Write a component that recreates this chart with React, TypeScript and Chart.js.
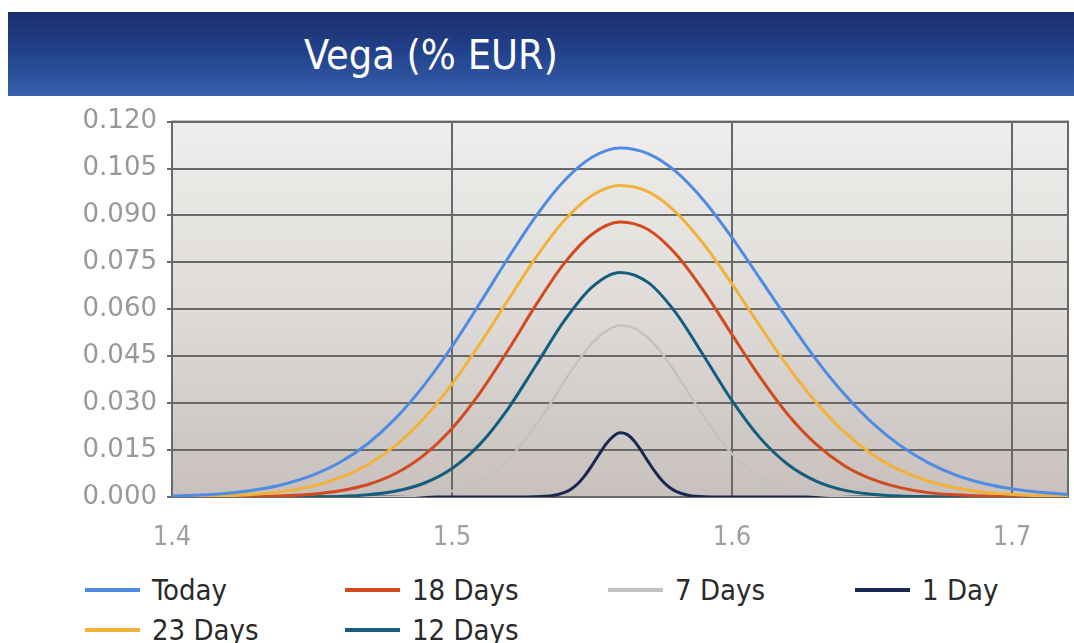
import React, { useEffect, useRef } from "react";
import { Chart, registerables } from "chart.js";

Chart.register(...registerables);

// ---------- data ----------
const chartTitle = "Vega (% EUR)";

const xWide = [
  1.40, 1.41, 1.42, 1.43, 1.44, 1.45, 1.46, 1.47, 1.48, 1.49, 1.50, 1.51, 1.52,
  1.53, 1.54, 1.55, 1.56, 1.57, 1.58, 1.59, 1.60, 1.61, 1.62, 1.63, 1.64, 1.65,
  1.66, 1.67, 1.68, 1.69, 1.70, 1.71, 1.72,
];

const todayValues = [
  0.0003, 0.0006, 0.0012, 0.0023, 0.0041, 0.0069, 0.0111, 0.0171, 0.0253, 0.0357,
  0.0481, 0.0620, 0.0763, 0.0898, 0.1010, 0.1086, 0.1116, 0.1098, 0.1040, 0.0947,
  0.0829, 0.0698, 0.0566, 0.0440, 0.0330, 0.0238, 0.0165, 0.0110, 0.0070, 0.0043,
  0.0026, 0.0015, 0.0008,
];

const days23Values = [
  0.0001, 0.0002, 0.0004, 0.0009, 0.0018, 0.0034, 0.0062, 0.0104, 0.0166, 0.0252,
  0.0361, 0.0490, 0.0629, 0.0766, 0.0883, 0.0964, 0.0996, 0.0976, 0.0910, 0.0807,
  0.0681, 0.0546, 0.0417, 0.0303, 0.0209, 0.0137, 0.0086, 0.0051, 0.0029, 0.0015,
  0.0008, 0.0004, 0.0002,
];

const days18Values = [
  0, 0, 0.0001, 0.0001, 0.0004, 0.0009, 0.0020, 0.0040, 0.0076, 0.0134,
  0.0219, 0.0333, 0.0469, 0.0614, 0.0746, 0.0840, 0.0879, 0.0855, 0.0776, 0.0657,
  0.0519, 0.0383, 0.0263, 0.0169, 0.0101, 0.0057, 0.0030, 0.0014, 0.0007, 0.0003,
  0.0001, 0, 0,
];

const days12Values = [
  0, 0, 0, 0, 0, 0.0001, 0.0002, 0.0007, 0.0019, 0.0044,
  0.0091, 0.0169, 0.0282, 0.0421, 0.0562, 0.0671, 0.0718, 0.0686, 0.0588, 0.0450,
  0.0308, 0.0189, 0.0104, 0.0051, 0.0022, 0.0009, 0.0003, 0.0001, 0, 0,
  0, 0, 0,
];

const x7Days = [
  1.40, 1.47, 1.48, 1.49, 1.495, 1.50, 1.505, 1.51, 1.515, 1.52, 1.525, 1.53,
  1.535, 1.54, 1.545, 1.55, 1.555, 1.56, 1.565, 1.57, 1.575, 1.58, 1.585, 1.59,
  1.595, 1.60, 1.605, 1.61, 1.615, 1.62, 1.625, 1.63, 1.64, 1.65, 1.72,
];
const days7Values = [
  0, 0, 0.0001, 0.0006, 0.0011, 0.0019, 0.0032, 0.0052, 0.0081, 0.0120, 0.0170, 0.0230,
  0.0297, 0.0368, 0.0435, 0.0491, 0.0530, 0.0548, 0.0540, 0.0509, 0.0459, 0.0395, 0.0325, 0.0256,
  0.0192, 0.0138, 0.0095, 0.0062, 0.0039, 0.0023, 0.0013, 0.0007, 0.0002, 0, 0,
];

const x1Day = [
  1.40, 1.525, 1.53, 1.535, 1.54, 1.5425, 1.545, 1.5475, 1.55, 1.5525, 1.555, 1.5575,
  1.56, 1.5625, 1.565, 1.5675, 1.57, 1.5725, 1.575, 1.5775, 1.58, 1.585, 1.59, 1.595, 1.72,
];
const day1Values = [
  0, 0, 0.0001, 0.0003, 0.0014, 0.0025, 0.0043, 0.0069, 0.0101, 0.0136, 0.0169, 0.0193,
  0.0205, 0.0200, 0.0180, 0.0149, 0.0114, 0.0081, 0.0053, 0.0032, 0.0018, 0.0004, 0.0001, 0, 0,
];

const seriesNames = ["Today", "23 Days", "18 Days", "12 Days", "7 Days", "1 Day"];
const seriesX = [xWide, xWide, xWide, xWide, x7Days, x1Day];
const seriesY = [todayValues, days23Values, days18Values, days12Values, days7Values, day1Values];

const xMin = 1.4;
const xMax = 1.72;
const xStep = 0.1;
const yMin = 0;
const yMax = 0.12;
const yStep = 0.015;

// ---------- styles ----------
const seriesColors = ["#4f8be3", "#f2b23a", "#d24a1e", "#145d7d", "#c2c2c2", "#1a2753"];
const seriesWidths = [3, 3, 3, 3, 2.5, 3];
// legend layout: [left, centerY] per series
const legendSlots = [
  [85, 590],
  [85, 630],
  [345, 590],
  [345, 630],
  [608, 590],
  [855, 590],
];

const gridColor = "#696969";

const plotBackground = {
  id: "plotBackground",
  beforeDraw(chart: any) {
    const { ctx, chartArea: a } = chart;
    if (!a) return;
    const g = ctx.createLinearGradient(0, a.top, 0, a.bottom);
    g.addColorStop(0, "#efeeec");
    g.addColorStop(0.5, "#dedbd8");
    g.addColorStop(1, "#c8c0bc");
    ctx.save();
    ctx.fillStyle = g;
    ctx.fillRect(a.left, a.top, a.right - a.left, a.bottom - a.top);
    ctx.restore();
  },
  beforeDatasetsDraw(chart: any) {
    const { ctx, chartArea: a } = chart;
    ctx.save();
    ctx.strokeStyle = gridColor;
    ctx.lineWidth = 2;
    ctx.strokeRect(a.left, a.top, a.right - a.left, a.bottom - a.top);
    ctx.restore();
  },
};

function ChartCanvas() {
  const ref = useRef<HTMLCanvasElement | null>(null);
  useEffect(() => {
    if (!ref.current) return;
    const datasets = seriesNames.map((name, i) => ({
      label: name,
      data: seriesX[i].map((x, j) => ({ x, y: seriesY[i][j] })),
      borderColor: seriesColors[i],
      backgroundColor: seriesColors[i],
      borderWidth: seriesWidths[i],
      pointRadius: 0,
      pointHoverRadius: 0,
      fill: false,
      cubicInterpolationMode: "monotone" as const,
    }));
    const chart = new Chart(ref.current, {
      type: "line",
      data: { datasets },
      plugins: [plotBackground],
      options: {
        animation: false,
        responsive: false,
        maintainAspectRatio: false,
        layout: { padding: { top: 19, right: 6, bottom: 0, left: 0 } },
        plugins: {
          legend: { display: false },
          title: { display: false },
          tooltip: { enabled: false },
        },
        scales: {
          x: {
            type: "linear",
            min: xMin,
            max: xMax,
            afterFit: (s: any) => {
              s.height = 60;
            },
            ticks: {
              stepSize: xStep,
              includeBounds: false,
              padding: 25,
              color: "#a0a0a0",
              font: { family: "'DejaVu Sans Condensed', 'DejaVu Sans', sans-serif", size: 27 },
              callback: (v: any) => Number(v).toFixed(1),
              maxRotation: 0,
            },
            grid: { color: gridColor, lineWidth: 2, drawTicks: false, tickLength: 0 },
            border: { display: true, color: gridColor, width: 2 },
          },
          y: {
            type: "linear",
            min: yMin,
            max: yMax,
            afterFit: (s: any) => {
              s.width = 172;
            },
            ticks: {
              stepSize: yStep,
              padding: 10,
              color: "#999999",
              font: { family: "'DejaVu Sans', sans-serif", size: 26 },
              callback: (v: any) => Number(v).toFixed(3),
            },
            grid: { color: gridColor, lineWidth: 2, drawTicks: true, tickLength: 5 },
            border: { display: true, color: gridColor, width: 2 },
          },
        },
      },
    });
    return () => chart.destroy();
  }, []);
  return (
    <canvas
      ref={ref}
      width={1074}
      height={461}
      style={{ position: "absolute", left: 0, top: 96, width: 1074, height: 461 }}
    />
  );
}

export default function App() {
  return (
    <div
      style={{
        position: "absolute",
        left: 0,
        top: 0,
        width: 1074,
        height: 643,
        background: "#ffffff",
        overflow: "hidden",
      }}
    >
      <div
        style={{
          position: "absolute",
          left: 8,
          top: 12,
          width: 1066,
          height: 84,
          background: "linear-gradient(to bottom, #1a2f6c 0%, #22408a 45%, #3560ab 100%)",
        }}
      />
      <div
        style={{
          position: "absolute",
          left: 304,
          top: 30,
          height: 50,
          lineHeight: "50px",
          color: "#ffffff",
          fontFamily: "'DejaVu Sans Condensed', 'DejaVu Sans', sans-serif",
          fontSize: 41,
          whiteSpace: "nowrap",
        }}
      >
        {chartTitle}
      </div>
      <ChartCanvas />
      {seriesNames.map((name, i) => (
        <div
          key={name}
          style={{
            position: "absolute",
            left: legendSlots[i][0],
            top: legendSlots[i][1] - 17,
            height: 34,
            display: "flex",
            alignItems: "center",
            whiteSpace: "nowrap",
          }}
        >
          <div style={{ width: 55, height: 4, background: seriesColors[i], marginRight: 12 }} />
          <span
            style={{
              fontFamily: "'DejaVu Sans Condensed', 'Liberation Sans', sans-serif",
              fontSize: 29,
              color: "#2a2a2a",
              lineHeight: "34px",
            }}
          >
            {name}
          </span>
        </div>
      ))}
    </div>
  );
}
